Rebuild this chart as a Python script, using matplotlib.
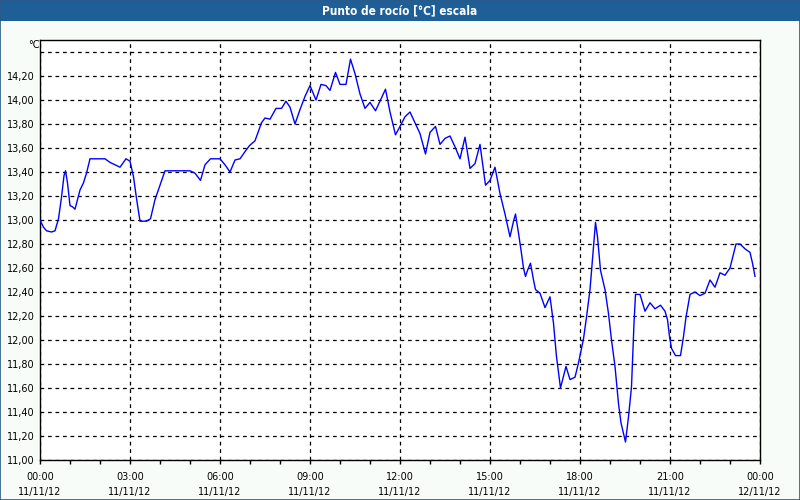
import numpy as np
import matplotlib.pyplot as plt
from matplotlib.patches import Rectangle

# Dew point readings: minutes after 00:00 on 11/11/12 and value in degC
minutes = [
    0, 7, 13, 23, 30, 37, 43, 48, 51, 55, 60, 65, 70, 75, 80, 87, 93, 100,
    130, 140, 160, 172, 180, 187, 193, 200, 213, 221, 230, 240, 250, 300,
    310, 321, 330, 341, 360, 370, 380, 390, 400, 410, 419, 430, 443, 450,
    460, 472, 483, 492, 500, 510, 520, 530, 540, 552, 562, 572, 580, 591,
    600, 612, 621, 630, 640, 650, 660, 671, 681, 691, 700, 711, 720, 730,
    740, 750, 760, 771, 780, 791, 800, 810, 820, 830, 840, 850, 860, 870,
    880, 891, 900, 910, 920, 930, 940, 947, 951, 957, 962, 967, 971, 975,
    981, 987, 991, 1000, 1010, 1020, 1027, 1033, 1041, 1052, 1060, 1070,
    1077, 1087, 1093, 1100, 1105, 1111, 1115, 1121, 1130, 1137, 1143, 1150,
    1157, 1162, 1167, 1171, 1177, 1183, 1188, 1191, 1200, 1210, 1220, 1230,
    1241, 1250, 1255, 1259, 1263, 1271, 1281, 1287, 1292, 1300, 1310, 1320,
    1330, 1340, 1350, 1360, 1370, 1380, 1392, 1400, 1410, 1420, 1425, 1430,
]
dew_point = [
    13.00, 12.94, 12.91, 12.90, 12.91, 13.01, 13.19, 13.37, 13.41, 13.31,
    13.12, 13.11, 13.09, 13.17, 13.25, 13.31, 13.39, 13.51,
    13.51, 13.48, 13.44, 13.51, 13.49, 13.36, 13.18, 12.99, 12.99, 13.01,
    13.17, 13.29, 13.41, 13.41,
    13.39, 13.33, 13.46, 13.51, 13.51, 13.46, 13.40, 13.50, 13.51, 13.57,
    13.62, 13.66, 13.81, 13.85,
    13.84, 13.93, 13.93, 13.99, 13.94, 13.80, 13.92, 14.03, 14.12, 14.00,
    14.13, 14.12, 14.08, 14.23,
    14.13, 14.13, 14.34, 14.22, 14.05, 13.93, 13.98, 13.91, 14.00, 14.09,
    13.90, 13.71, 13.78, 13.86,
    13.90, 13.81, 13.72, 13.55, 13.73, 13.78, 13.63, 13.68, 13.70, 13.61,
    13.51, 13.69, 13.43, 13.47,
    13.63, 13.29, 13.33, 13.44, 13.22, 13.05, 12.86, 12.99, 13.05, 12.89,
    12.75, 12.60, 12.53, 12.58,
    12.64, 12.50, 12.42, 12.39, 12.27, 12.36, 12.14, 11.86, 11.60, 11.78,
    11.67, 11.69,
    11.81, 12.01, 12.19, 12.42, 12.67, 12.98, 12.86, 12.58, 12.42, 12.22,
    12.00, 11.78,
    11.47, 11.31, 11.22, 11.15, 11.36, 11.61, 12.14, 12.38, 12.38, 12.24,
    12.31, 12.26,
    12.29, 12.24, 12.17, 12.03, 11.93, 11.87, 11.87, 12.03, 12.19, 12.38,
    12.40, 12.37,
    12.39, 12.50, 12.44, 12.56, 12.54, 12.60, 12.80, 12.80, 12.76, 12.73,
    12.64, 12.53,
]

x_tick_hours = [0, 3, 6, 9, 12, 15, 18, 21, 24]
x_tick_labels = [
    "00:00\n11/11/12", "03:00\n11/11/12", "06:00\n11/11/12",
    "09:00\n11/11/12", "12:00\n11/11/12", "15:00\n11/11/12",
    "18:00\n11/11/12", "21:00\n11/11/12", "00:00\n12/11/12",
]
y_ticks = [11.0, 11.2, 11.4, 11.6, 11.8, 12.0, 12.2, 12.4, 12.6, 12.8,
           13.0, 13.2, 13.4, 13.6, 13.8, 14.0, 14.2, 14.4]

title = "Punto de rocío [°C] escala"
bar_color = "#1f5f97"


def main():
    fig = plt.figure(figsize=[8, 5], dpi=100, facecolor="#f8fcf8")

    # Title bar and window border
    fig.patches.append(Rectangle((0, 0.958), 1, 0.042, transform=fig.transFigure,
                                 facecolor=bar_color, edgecolor="none", zorder=0))
    fig.patches.append(Rectangle((0.0006, 0.001), 0.9988, 0.998,
                                 transform=fig.transFigure, facecolor="none",
                                 edgecolor="#2a5b8a", linewidth=1.2, zorder=1))
    fig.text(0.5, 0.979, title, ha="center", va="center", color="white",
             fontsize=8.5, fontweight="bold", fontstretch="condensed",
             family=["DejaVu Sans"])

    ax = fig.add_axes([0.05, 0.08, 0.90, 0.84])
    ax.set_facecolor("white")

    hours = np.array(minutes) / 60.0
    ax.plot(hours, dew_point, color="#0000ff", linewidth=1.0, zorder=3)

    ax.set_xlim(0, 24)
    ax.set_ylim(11.0, 14.5)

    ax.set_xticks(x_tick_hours)
    ax.set_xticklabels(x_tick_labels, fontsize=7, linespacing=1.6)
    ax.set_xticks(np.arange(0, 25, 1), minor=True)
    ax.tick_params(axis="x", which="both", direction="out", length=3,
                   width=1, pad=6, color="black")

    ax.set_yticks(y_ticks)
    y_labels = [("%.2f" % v).replace(".", ",") for v in y_ticks]
    y_labels[-1] = ""
    ax.set_yticklabels(y_labels, fontsize=7)
    ax.tick_params(axis="y", length=0, pad=4)

    ax.grid(True, which="major", color="black", linestyle=(0, (3, 3)),
            linewidth=0.9)
    for spine in ax.spines.values():
        spine.set_color("black")
        spine.set_linewidth(1.0)

    fig.text(0.035, 0.91, "°C", ha="left", va="center", fontsize=7)

    fig.savefig("out.png", dpi=100, facecolor=fig.get_facecolor())
    plt.close(fig)


if __name__ == "__main__":
    main()
